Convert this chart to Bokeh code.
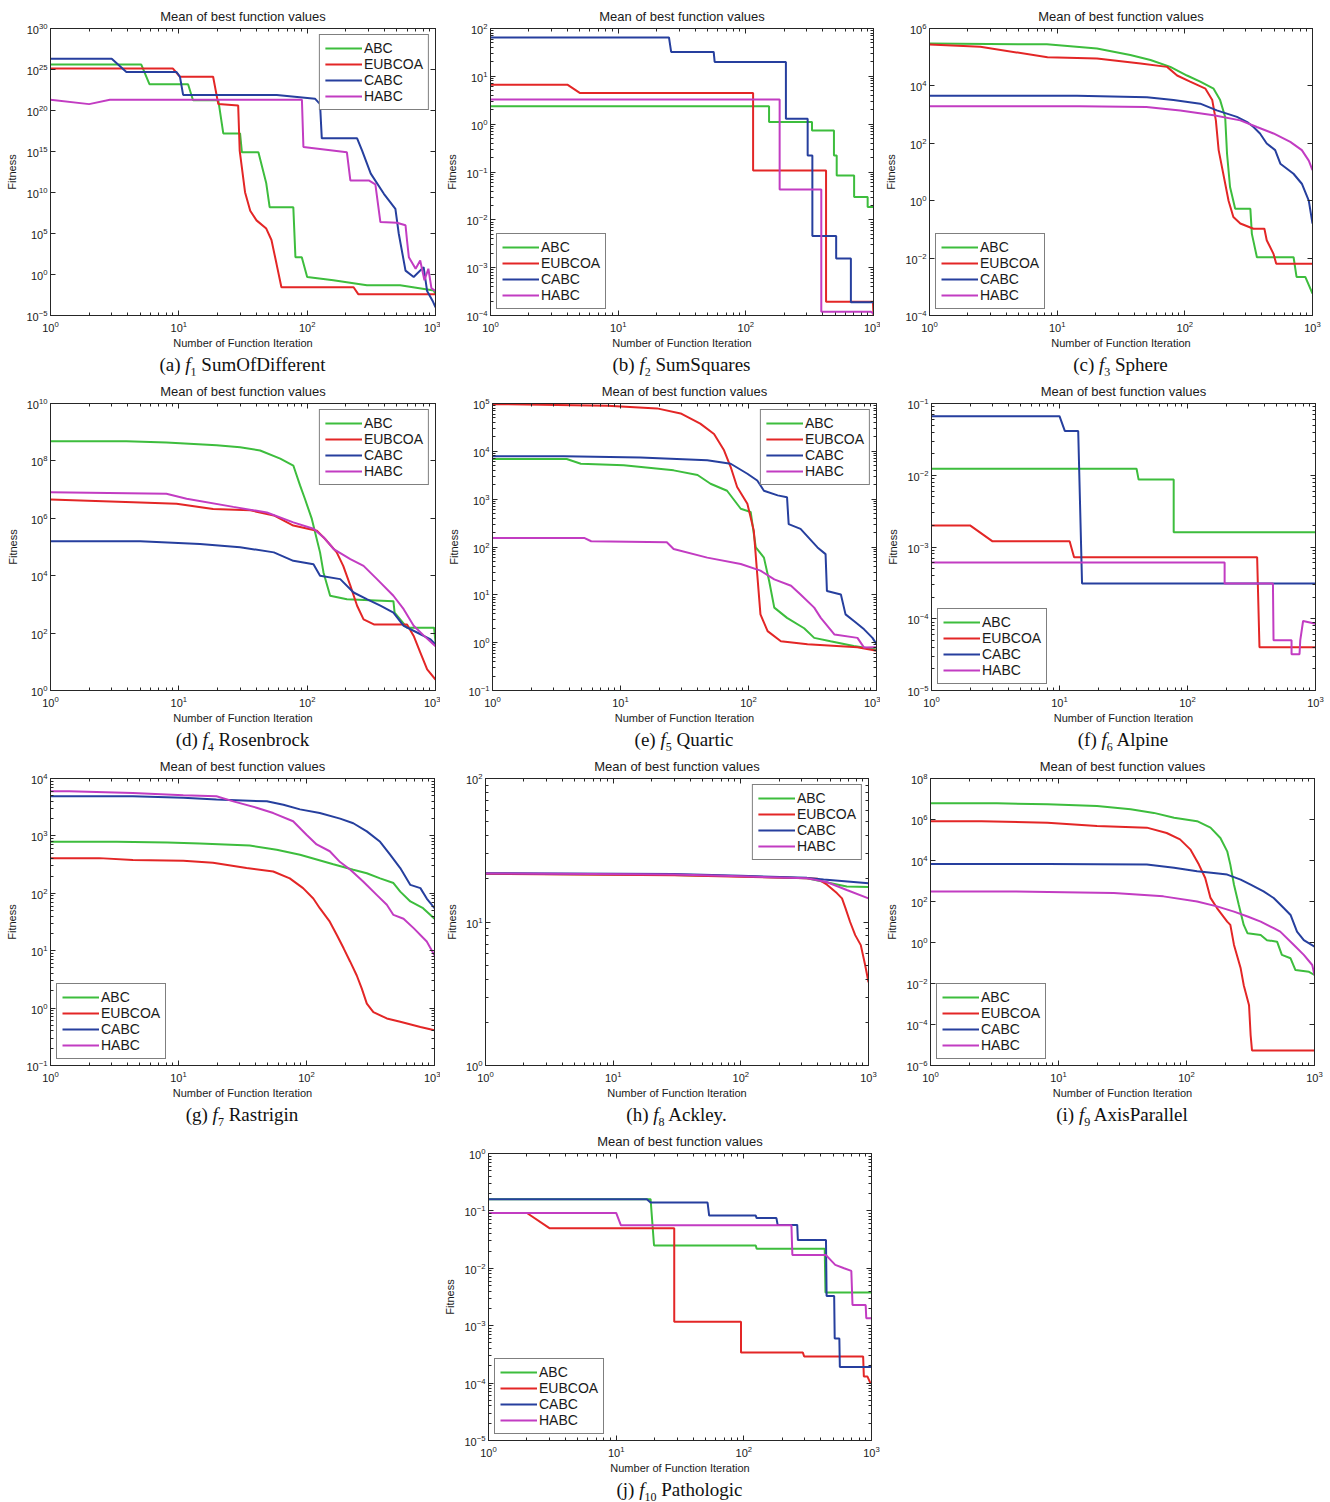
from bokeh.plotting import figure
from bokeh.layouts import column, row
from bokeh.models import FixedTicker, LogAxis, Div, Spacer, Range1d
from bokeh.embed import file_html
from bokeh.resources import INLINE

SERIES = ["ABC", "EUBCOA", "CABC", "HABC"]
COLORS = ["#3dbd3d", "#e32626", "#263f9e", "#c23cc2"]

# ---------------- data: (iteration, mean best fitness) ----------------
F1_ABC = [(1, 4e25), (5.1, 4e25), (5.9, 1.6e23), (11.8, 1.6e23), (12.9, 1.8e21), (20.3, 1.8e21),
          (22.2, 1.6e17), (30, 1.6e17), (31, 8e14), (41.7, 8e14), (48, 1.3e11), (51, 1.6e8),
          (78, 1.6e8), (81, 1.3e2), (90.8, 1.3e2), (100, 0.5), (160, 0.2), (292, 0.05),
          (530, 0.05), (970, 0.011), (1000, 0.004)]
F1_EUBCOA = [(1, 1.3e25), (9.0, 1.3e25), (10.2, 1.3e24), (18.5, 1.3e24), (20.3, 6e20), (29, 4e20),
             (29.8, 1.3e15), (32.8, 1.1e10), (36, 6e7), (40.3, 4e6), (48, 4e5), (52.7, 1.6e4),
             (57.7, 20), (63, 0.028), (230, 0.028), (250, 0.004), (1000, 0.004)]
F1_CABC = [(1, 2e26), (3.0, 2e26), (3.9, 5e24), (9.6, 5e24), (10.2, 1.3e24), (10.8, 8e21), (58, 8e21),
           (115, 2.8e21), (126, 6e20), (130, 4e16), (245, 4e16), (268, 1.3e15), (313, 2e12),
           (396, 7e9), (487, 1e8), (517, 1e5), (584, 3), (676, 0.5), (808, 8), (860, 0.01),
           (950, 6e-4), (1000, 1e-4)]
F1_HABC = [(1, 2e21), (2.0, 6e20), (2.9, 2e21), (91, 2e21), (93.5, 3.5e15), (204, 8e14), (217, 3e11),
           (302, 3e11), (340, 1e11), (372, 2.5e6), (500, 2e6), (584, 1e6), (600, 1.4e4), (620, 1.3e2),
           (700, 5), (760, 50), (820, 0.2), (880, 5), (930, 0.02), (1000, 0.01)]

F2_ABC = [(1, 2.37), (152, 2.37), (152, 1.11), (330, 1.11), (330, 0.74), (490, 0.74), (490, 0.22),
          (515, 0.22), (515, 0.085), (705, 0.085), (705, 0.030), (900, 0.030), (900, 0.0185), (1000, 0.0185)]
F2_EUBCOA = [(1, 6.7), (4, 6.7), (5, 4.5), (114, 4.5), (114, 0.108), (425, 0.108), (425, 1.95e-4),
             (990, 1.95e-4), (1000, 1.0e-4)]
F2_CABC = [(1, 65), (25, 65), (26, 32.4), (56, 32.4), (57, 20), (206, 20), (206, 1.3), (305, 1.3),
           (305, 0.22), (332, 0.22), (332, 0.0046), (510, 0.0046), (510, 0.00155), (665, 0.00155),
           (665, 1.9e-4), (1000, 1.9e-4)]
F2_HABC = [(1, 3.27), (184, 3.27), (184, 0.043), (390, 0.043), (390, 1.2e-4), (950, 1.2e-4), (1000, 1.1e-4)]

F3_ABC = [(1, 3e5), (8.3, 2.8e5), (20.5, 2e5), (37.4, 1.2e5), (53.8, 8e4), (77, 4.6e4), (104, 2.3e4),
          (132, 1.4e4), (168, 8e3), (189, 3.2e3), (207, 830), (214, 44), (226, 3.0), (248, 0.52),
          (326, 0.52), (335, 0.07), (367, 0.0107), (711, 0.0107), (730, 0.0049), (750, 0.0022),
          (878, 0.0022), (1000, 5.8e-4)]
F3_EUBCOA = [(1, 2.75e5), (2.5, 2.3e5), (8.4, 1.0e5), (20.5, 9e4), (45, 6e4), (72.6, 4.6e4), (87, 2.3e4),
             (110, 1.4e4), (145, 8e3), (164, 3.2e3), (175, 630), (184, 58), (220, 1.0), (240, 0.27),
             (272, 0.16), (345, 0.105), (420, 0.105), (438, 0.042), (495, 0.014), (520, 0.0063),
             (1000, 0.0063)]
F3_CABC = [(1, 4.5e3), (14.3, 4.5e3), (50.5, 4e3), (81.5, 3.2e3), (132, 2.4e3), (178, 1.4e3), (256, 830),
           (308, 550), (345, 370), (388, 220), (438, 98), (510, 58), (560, 19.5), (710, 8.7), (825, 3.9),
           (935, 1.0), (1000, 0.16)]
F3_HABC = [(1, 1.95e3), (15, 1.95e3), (50, 1.85e3), (92, 1.4e3), (168, 950), (272, 630), (367, 370),
           (495, 220), (670, 112), (825, 58), (935, 25), (1000, 11.5)]

F4_ABC = [(1, 4.8e8), (3.9, 4.8e8), (8, 4.4e8), (19.7, 3.5e8), (30, 3.0e8), (43, 2.3e8), (61.7, 1.2e8),
          (78, 6.9e7), (88, 1.4e7), (96, 4.8e6), (108.7, 9.5e5), (126, 6.5e4), (134, 1.3e4), (151, 2e3),
          (204, 1.5e3), (470, 1.3e3), (480, 5.2e2), (600, 1.55e2), (975, 1.55e2), (1000, 47)]
F4_EUBCOA = [(1, 4.5e6), (4.4, 3.6e6), (9.6, 3.2e6), (18.5, 2.1e6), (36, 1.9e6), (55, 1.26e6),
             (78, 5.6e5), (119, 3.7e5), (138, 1.9e5), (170, 6.5e4), (191, 2.2e4), (217, 4.5e3),
             (245, 9e2), (275, 3e2), (331, 2e2), (600, 2e2), (676, 80), (762, 21), (861, 5.4), (1000, 2.4)]
F4_CABC = [(1, 1.6e5), (5, 1.6e5), (14.6, 1.26e5), (30, 9.8e4), (55, 6.5e4), (78, 3.3e4), (112, 2.5e4),
           (126, 1e4), (181, 7.6e3), (230, 2.6e3), (294, 1.5e3), (372, 9e2), (470, 5.2e2), (565, 1.8e2),
           (718, 1.05e2), (915, 60), (1000, 40)]
F4_HABC = [(1, 8.1e6), (8, 7.2e6), (11.5, 4.8e6), (26.6, 2.5e6), (48.5, 1.6e6), (78, 7.2e5), (112, 4.3e5),
           (134, 2.2e5), (161, 8.5e4), (217, 3.8e4), (275, 2.2e4), (350, 7.6e3), (470, 2e3), (565, 6.8e2),
           (676, 1.8e2), (815, 80), (1000, 35)]

F5_ABC = [(1, 6.9e3), (3.8, 6.9e3), (4.9, 5.5e3), (10.6, 5.1e3), (26, 4e3), (40, 3.2e3), (50.5, 2.1e3),
          (68, 1.5e3), (87, 6.3e2), (104, 5.4e2), (114, 98), (132, 60), (145, 19.5), (159, 5.4), (200, 3.3),
          (272, 2.0), (326, 1.26), (437, 1.07), (664, 0.85), (1000, 0.72)]
F5_EUBCOA = [(1, 9.7e4), (7.9, 9e4), (19.3, 7.9e4), (29.5, 6.2e4), (42, 3.8e4), (53.8, 2.3e4),
             (64.4, 1.05e4), (72.6, 4.7e3), (81.5, 1.8e3), (98, 8e2), (110, 2.2e2), (117, 27), (124, 3.9),
             (141, 1.74), (179, 1.07), (289, 0.93), (710, 0.8), (1000, 0.68)]
F5_CABC = [(1, 7.9e3), (3.6, 7.9e3), (14.3, 7.4e3), (47.6, 6.5e3), (72.6, 5.5e3), (98, 3.4e3),
           (117, 2.45e3), (132, 1.5e3), (169, 1.2e3), (200, 1.1e3), (206, 3e2), (255, 2.4e2), (346, 98),
           (400, 71), (410, 12), (527, 10.2), (573, 3.9), (670, 2.8), (800, 1.9), (930, 1.26), (1000, 0.93)]
F5_HABC = [(1, 155), (5.2, 155), (5.9, 132), (23, 126), (26, 91), (47.6, 60), (87, 44), (124, 32),
           (159, 21), (215, 15.5), (255, 10.2), (326, 5.4), (367, 3.3), (470, 1.48), (710, 1.26),
           (800, 0.79), (1000, 0.8)]

F6_ABC = [(1, 0.0123), (40, 0.0123), (41.5, 0.0087), (78, 0.0087), (78, 0.0016), (1000, 0.0016)]
F6_EUBCOA = [(1, 0.002), (2, 0.002), (3, 0.0012), (12, 0.0012), (13, 0.00072), (350, 0.00072),
             (365, 4e-5), (1000, 4e-5)]
F6_CABC = [(1, 0.0665), (10, 0.0665), (11, 0.0415), (14, 0.0415), (15, 3.1e-4), (1000, 3.1e-4)]
F6_HABC = [(1, 6.1e-4), (195, 6.1e-4), (195, 3.1e-4), (465, 3.1e-4), (470, 5e-5), (650, 5e-5),
           (650, 3.2e-5), (750, 3.2e-5), (760, 5e-5), (800, 9.3e-5), (1000, 8.5e-5)]

F7_ABC = [(1, 790), (3.3, 790), (8.2, 770), (14.7, 740), (36, 680), (58.5, 575), (89, 470), (162, 320),
          (232, 257), (296, 224), (376, 182), (478, 151), (540, 107), (648, 72), (814, 55), (1000, 36)]
F7_EUBCOA = [(1, 410), (2.4, 410), (4.4, 380), (10.9, 370), (18.6, 340), (34, 275), (55, 240), (74, 182),
             (94, 123), (113, 81), (127, 55), (152, 32), (173, 18.6), (195, 11), (219, 6.5), (247, 3.7),
             (270, 2.2), (296, 1.2), (333, 0.85), (424, 0.66), (540, 0.58), (776, 0.47), (1000, 0.41)]
F7_CABC = [(1, 4.9e3), (4.4, 4.9e3), (10.9, 4.6e3), (19.8, 4.3e3), (49, 4e3), (66, 3.5e3), (89, 2.9e3),
           (127, 2.5e3), (183, 2.0e3), (232, 1.66e3), (296, 1.2e3), (376, 7.9e2), (450, 4.7e2),
           (540, 2.75e2), (648, 1.4e2), (776, 1.23e2), (870, 81), (1000, 55)]
F7_HABC = [(1, 6e3), (1.4, 6e3), (4.4, 5.6e3), (10.9, 5.1e3), (19.8, 4.9e3), (26.8, 4e3), (40.7, 3.1e3),
           (55, 2.5e3), (78.6, 1.8e3), (100, 1.05e3), (120, 7.1e2), (152, 5.4e2), (183, 3.5e2),
           (219, 2.6e2), (277, 1.6e2), (355, 93), (424, 63), (478, 42), (573, 36), (690, 24.5),
           (870, 14.5), (1000, 8.3)]

F8_ABC = [(1, 21.7), (30, 21.3), (100, 20.8), (330, 20.2), (445, 19.1), (676, 17.7), (1000, 17.5)]
F8_EUBCOA = [(1, 21.7), (30, 21.2), (100, 20.7), (330, 20.2), (400, 20.0), (473, 18.2), (565, 15.9),
             (620, 14.6), (660, 12.5), (718, 10), (787, 8.1), (870, 6.9), (942, 5.0), (1000, 3.8)]
F8_CABC = [(1, 21.9), (30, 21.6), (100, 21.0), (330, 20.3), (445, 19.8), (1000, 18.6)]
F8_HABC = [(1, 21.8), (30, 21.4), (100, 20.8), (330, 20.2), (470, 19.0), (676, 16.7), (1000, 14.6)]

F9_ABC = [(1, 6.2e6), (3.3, 6.2e6), (8.2, 5.5e6), (20, 4.6e6), (36.6, 3.2e6), (55.6, 2.1e6), (80, 1.23e6),
          (121, 8.3e5), (154, 4e5), (184, 1.26e5), (208, 2.8e4), (220, 6.3e3), (235, 6.6e2), (256, 69),
          (280, 7.2), (300, 2.8), (380, 2.3), (425, 1.3), (510, 1.1), (556, 0.25), (650, 0.17),
          (710, 0.045), (906, 0.037), (1000, 0.026)]
F9_EUBCOA = [(1, 8.3e5), (2.5, 8.3e5), (8.2, 6.9e5), (20, 4.8e5), (49, 4e5), (70, 2.2e5), (89, 1.07e5),
             (107, 3.5e4), (125, 6.3e3), (140, 1.4e3), (154, 1.5e2), (173, 48), (208, 10.5), (220, 7.2),
             (235, 0.76), (265, 0.055), (280, 0.0083), (308, 8.7e-4), (317, 3e-5), (325, 5.4e-6),
             (1000, 5.4e-6)]
F9_CABC = [(1, 6.8e3), (8.2, 6.8e3), (49, 6.3e3), (80, 4.4e3), (121, 3e3), (163, 2.45e3), (208, 2.05e3),
           (265, 1.17e3), (317, 6.6e2), (400, 3.1e2), (480, 1.48e2), (575, 48), (650, 22), (730, 3.4),
           (825, 1.3), (1000, 0.63)]
F9_HABC = [(1, 310), (4.5, 310), (14.8, 275), (27, 257), (66, 178), (121, 100), (173, 58), (235, 32),
           (300, 18.6), (380, 10.5), (480, 5), (540, 3.4), (690, 0.76), (825, 0.25), (960, 0.08),
           (1000, 0.026)]

F10_ABC = [(1, 0.16), (18.6, 0.16), (19.8, 0.025), (124, 0.025), (126, 0.022), (430, 0.022),
           (436, 3.8e-3), (1000, 3.8e-3)]
F10_EUBCOA = [(1, 0.092), (2, 0.092), (3, 0.05), (28.5, 0.05), (28.5, 1.17e-3), (95, 1.17e-3),
              (95, 3.4e-4), (290, 3.4e-4), (297, 2.9e-4), (860, 2.9e-4), (871, 1.3e-4), (930, 1.3e-4),
              (980, 1.0e-4), (1000, 1.0e-4)]
F10_CABC = [(1, 0.16), (17.4, 0.16), (18.6, 0.14), (52, 0.14), (53.5, 0.083), (124, 0.083), (126, 0.075),
            (180, 0.075), (184, 0.057), (262, 0.057), (265, 0.031), (440, 0.031), (445, 3.3e-3),
            (510, 3.3e-3), (515, 6e-4), (560, 6e-4), (565, 1.9e-4), (980, 1.9e-4), (1000, 2.05e-4)]
F10_HABC = [(1, 0.092), (10, 0.092), (10.9, 0.056), (236, 0.056), (240, 0.017), (440, 0.017),
            (520, 0.0115), (610, 0.01), (695, 9e-3), (710, 2.3e-3), (900, 2.3e-3), (910, 1.35e-3),
            (1000, 1.35e-3)]

# y-axis decades: (lowest exponent, highest exponent, step)
Y_DECADES = [(-5, 30, 5), (-4, 2, 1), (-4, 6, 2), (0, 10, 2), (-1, 5, 1),
             (-5, -1, 1), (-1, 4, 1), (0, 2, 1), (-6, 8, 2), (-5, 0, 1)]
CAPTIONS = [("(a)", "1", "SumOfDifferent"), ("(b)", "2", "SumSquares"), ("(c)", "3", "Sphere"),
            ("(d)", "4", "Rosenbrock"), ("(e)", "5", "Quartic"), ("(f)", "6", "Alpine"),
            ("(g)", "7", "Rastrigin"), ("(h)", "8", "Ackley."), ("(i)", "9", "AxisParallel"),
            ("(j)", "10", "Pathologic")]
DATA = [(F1_ABC, F1_EUBCOA, F1_CABC, F1_HABC), (F2_ABC, F2_EUBCOA, F2_CABC, F2_HABC),
        (F3_ABC, F3_EUBCOA, F3_CABC, F3_HABC), (F4_ABC, F4_EUBCOA, F4_CABC, F4_HABC),
        (F5_ABC, F5_EUBCOA, F5_CABC, F5_HABC), (F6_ABC, F6_EUBCOA, F6_CABC, F6_HABC),
        (F7_ABC, F7_EUBCOA, F7_CABC, F7_HABC), (F8_ABC, F8_EUBCOA, F8_CABC, F8_HABC),
        (F9_ABC, F9_EUBCOA, F9_CABC, F9_HABC), (F10_ABC, F10_EUBCOA, F10_CABC, F10_HABC)]
LEGEND_LOC = ["top_right", "bottom_left", "bottom_left", "top_right", "top_right",
              "bottom_left", "bottom_left", "top_right", "bottom_left", "bottom_left"]

X_TICKS = [1, 10, 100, 1000]
X_MINOR = [m * 10 ** d for d in range(3) for m in range(2, 10)]

# ---------------- layout (pixels) ----------------
TOP, FH, BOTTOM, CAP_H = 28, 287, 40, 20
# (left border, frame width, right border)
GEOM = [(50, 385, 5), (50, 383, 7), (49, 383, 18),
        (50, 385, 5), (52, 384, 4), (51, 384, 15),
        (50, 384, 6), (45, 383, 12), (50, 384, 16),
        (48, 383, 9)]
AX_COLOR = "#262626"
FONT = "Liberation Sans"


def y_ticks(lo, hi, step):
    major = [10.0 ** e for e in range(lo, hi + 1, step)]
    if step == 1:
        minor = [m * 10.0 ** e for e in range(lo, hi) for m in range(2, 10)]
    else:
        minor = []
    return major, minor


def style_axis(ax):
    ax.axis_line_color = AX_COLOR
    ax.major_tick_line_color = AX_COLOR
    ax.minor_tick_line_color = AX_COLOR
    ax.major_tick_in = 5
    ax.major_tick_out = 0
    ax.minor_tick_in = 3
    ax.minor_tick_out = 0


def make_panel(i):
    left, fw, right = GEOM[i]
    lo, hi, step = Y_DECADES[i]
    ymaj, ymin = y_ticks(lo, hi, step)
    p = figure(width=left + fw + right, height=TOP + FH + BOTTOM,
               x_axis_type="log", y_axis_type="log",
               x_range=Range1d(1, 1000), y_range=Range1d(10.0 ** lo, 10.0 ** hi),
               output_backend="svg", toolbar_location=None,
               min_border_left=left, min_border_right=right,
               min_border_top=TOP, min_border_bottom=BOTTOM,
               title="Mean of best function values", margin=0)
    p.title.align = "center"
    p.title.text_font = FONT
    p.title.text_font_size = "13px"
    p.title.text_font_style = "normal"
    p.title.text_color = "#1a1a1a"
    p.title.standoff = 10
    p.xgrid.visible = False
    p.ygrid.visible = False
    p.outline_line_color = AX_COLOR
    p.outline_line_width = 1

    xt = FixedTicker(ticks=X_TICKS, minor_ticks=X_MINOR)
    yt = FixedTicker(ticks=ymaj, minor_ticks=ymin)
    p.xaxis.ticker = xt
    p.yaxis.ticker = yt
    for ax in (p.xaxis[0], p.yaxis[0]):
        style_axis(ax)
        ax.major_label_text_font = FONT
        ax.major_label_text_font_size = "11px"
        ax.major_label_text_color = "#1a1a1a"
        ax.axis_label_text_font = FONT
        ax.axis_label_text_font_size = "11px"
        ax.axis_label_text_font_style = "normal"
        ax.axis_label_text_color = "#1a1a1a"
    p.xaxis.major_label_standoff = 5
    p.xaxis.axis_label_standoff = 2
    p.yaxis.major_label_standoff = 3
    p.yaxis.axis_label_standoff = 5
    p.xaxis.axis_label = "Number of Function Iteration"
    p.yaxis.axis_label = "Fitness"

    top_ax = LogAxis(ticker=xt, major_label_text_font_size="1px", major_label_text_alpha=0.0,
                     major_label_standoff=0)
    right_ax = LogAxis(ticker=yt, major_label_text_font_size="1px", major_label_text_alpha=0.0,
                       major_label_standoff=0)
    style_axis(top_ax)
    style_axis(right_ax)
    p.add_layout(top_ax, "above")
    p.add_layout(right_ax, "right")

    for name, color, pts in zip(SERIES, COLORS, DATA[i]):
        xs = [pt[0] for pt in pts]
        ys = [pt[1] for pt in pts]
        p.line(xs, ys, line_color=color, line_width=2.0, legend_label=name)

    lg = p.legend[0]
    lg.location = LEGEND_LOC[i]
    lg.border_line_color = "black"
    lg.border_line_width = 1
    lg.background_fill_alpha = 1.0
    lg.label_text_font = FONT
    lg.label_text_font_size = "14px"
    lg.label_text_color = "#1a1a1a"
    lg.glyph_width = 37
    lg.glyph_height = 16
    lg.label_height = 16
    lg.spacing = 0
    lg.padding = 5
    lg.margin = 6
    lg.label_standoff = 2

    tag, sub, name = CAPTIONS[i]
    html = (f'<div style="margin-left:{left}px;width:{fw}px;text-align:center;'
            f'font-family:\'Liberation Serif\',serif;font-size:19px;line-height:{CAP_H}px;'
            f'color:#111;white-space:nowrap;">{tag} <i>f</i>'
            f'<sub style="font-size:12px;">{sub}</sub> {name}</div>')
    cap = Div(text=html, width=left + fw + right, height=CAP_H, margin=0)
    return column(p, cap, margin=0, spacing=0)


cells = [make_panel(i) for i in range(10)]
layout = column(
    row(cells[0], cells[1], cells[2], margin=0, spacing=0),
    row(cells[3], cells[4], cells[5], margin=0, spacing=0),
    row(cells[6], cells[7], cells[8], margin=0, spacing=0),
    row(Spacer(width=sum(GEOM[0]), height=10, margin=0), cells[9], margin=0, spacing=0),
    margin=0, spacing=0,
)

open("out.html", "w").write(file_html(layout, INLINE))
